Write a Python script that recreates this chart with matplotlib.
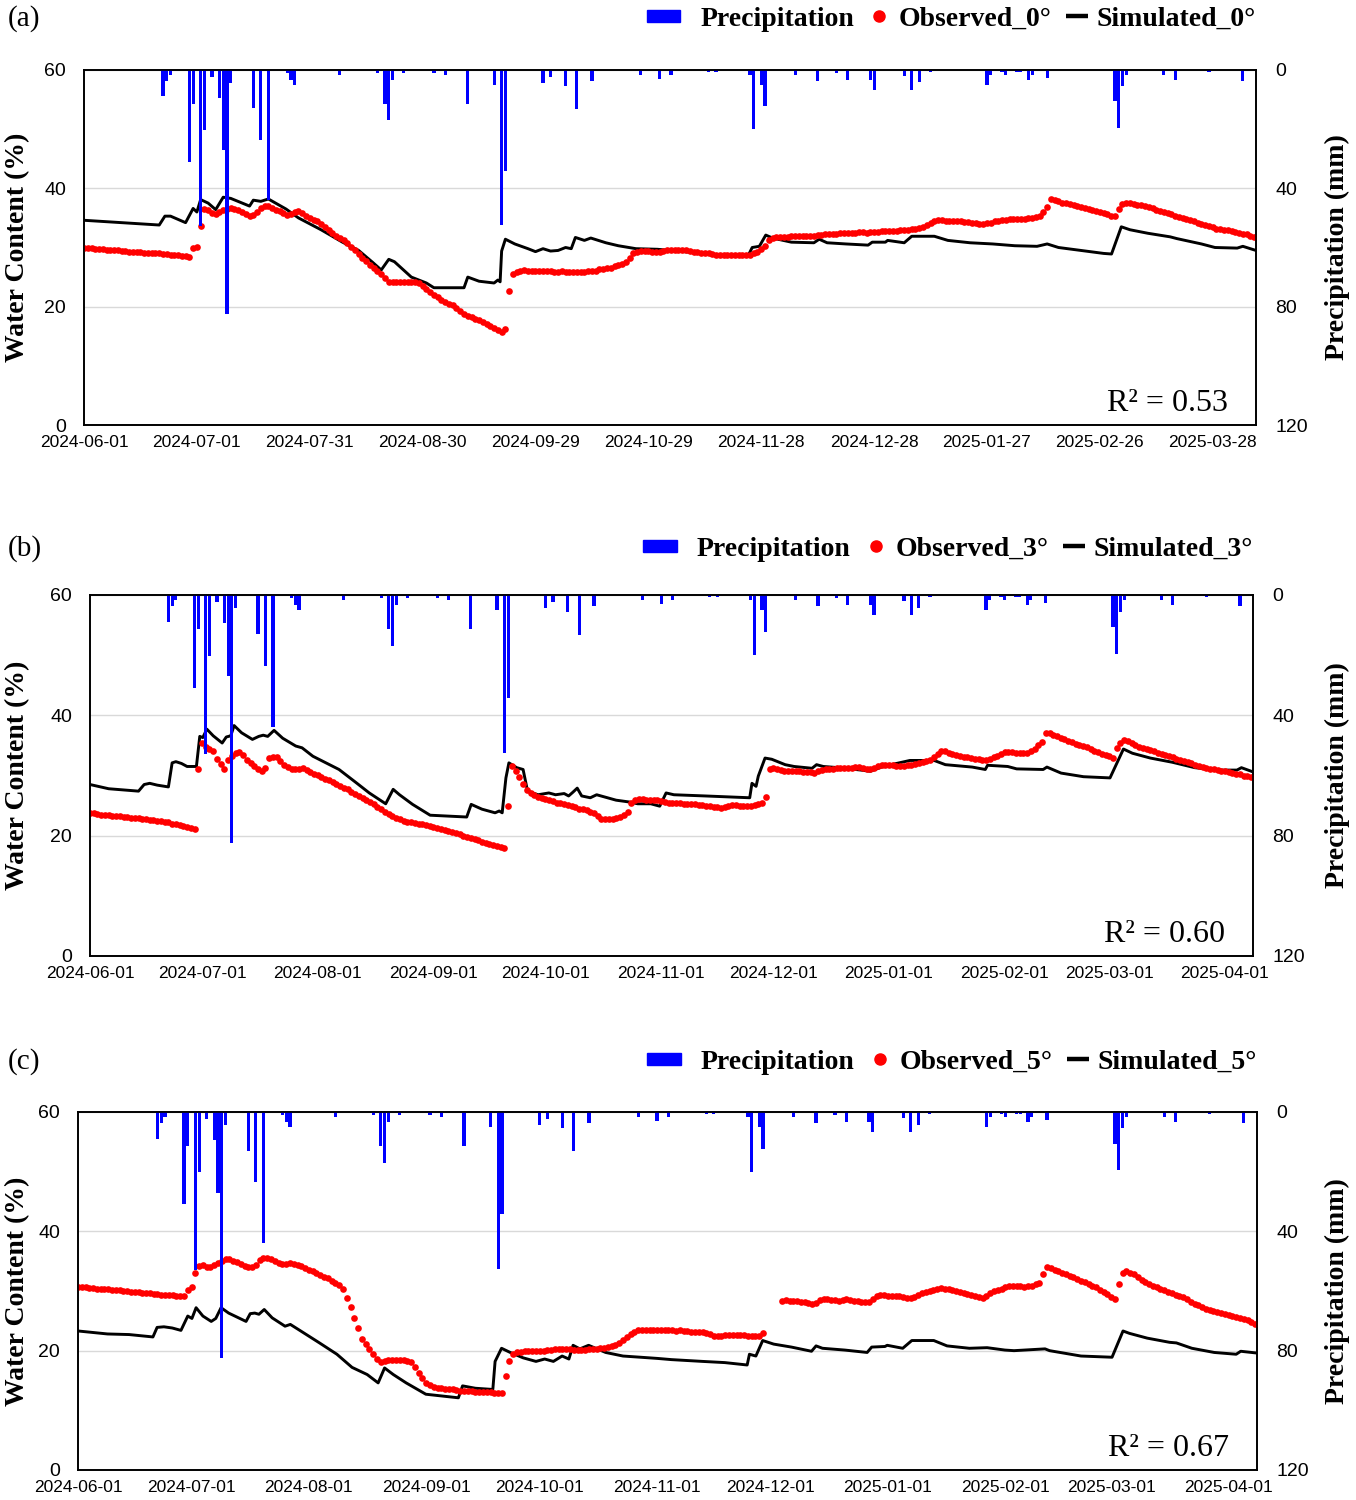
import numpy as np
import matplotlib
matplotlib.use("Agg")
import matplotlib.pyplot as plt
import matplotlib.dates as mdates
from matplotlib.lines import Line2D
from matplotlib.patches import Patch, Rectangle
from matplotlib.legend_handler import HandlerPatch
from datetime import datetime

# ============ data ============
start = datetime(2024, 6, 1)   # day 0

# daily precipitation (mm), same record for all three plots
rain_day = [21, 22, 23, 28, 29, 31, 32, 34, 36, 37, 38, 39, 45, 47, 49, 54, 55, 56, 68,
            78, 80, 81, 82, 85, 93, 96, 102, 109, 111, 112, 122, 124, 128, 131, 135, 148,
            153, 156, 166, 168, 177, 178, 180, 181, 189, 195, 200, 203, 209, 210, 218, 220,
            222, 225, 240, 241, 244, 245, 248, 249, 251, 252, 256, 274, 275, 276, 277, 287,
            290, 299, 308]
rain_mm = [8.9, 3.8, 1.6, 31.0, 11.4, 52.8, 20.2, 2.4, 9.4, 27.0, 82.6, 4.4, 13.0, 23.5, 43.8,
           1.0, 3.3, 5.0, 1.6, 1.0, 11.4, 17.0, 3.3, 1.0, 1.0, 1.6, 11.4, 5.0, 52.5, 34.2, 4.4,
           2.4, 5.5, 13.2, 3.8, 1.6, 2.9, 1.6, 0.8, 0.8, 1.6, 20.0, 5.0, 12.3, 1.6, 3.8, 1.0,
           3.3, 3.3, 6.6, 2.1, 6.6, 4.2, 0.8, 5.0, 1.6, 0.8, 1.6, 0.8, 0.8, 3.3, 1.6, 2.7,
           10.6, 19.6, 5.5, 1.6, 1.6, 3.3, 0.8, 3.8]

# observed water content (%), one value per day from 2024-06-01
obs0 = [30.0, 29.9, 29.9, 29.8, 29.7, 29.7, 29.6, 29.6, 29.5, 29.5,
        29.4, 29.4, 29.3, 29.3, 29.2, 29.2, 29.1, 29.1, 29.0, 29.0,
        29.0, 28.9, 28.9, 28.8, 28.8, 28.7, 28.6, 28.5, 28.4, 29.9,
        30.1, 33.7, 36.5, 36.3, 35.9, 35.6, 36.0, 36.4, 36.5, 36.6,
        36.5, 36.3, 36.0, 35.6, 35.3, 35.5, 36.0, 36.6, 37.0, 37.0,
        36.7, 36.4, 36.1, 35.8, 35.5, 35.6, 36.0, 36.2, 35.8, 35.4,
        35.0, 34.7, 34.4, 34.0, 33.5, 33.0, 32.5, 32.0, 31.6, 31.2,
        30.7, 30.1, 29.5, 28.9, 28.3, 27.7, 27.1, 26.5, 26.0, 25.5,
        24.8, 24.2, 24.2, 24.2, 24.2, 24.2, 24.2, 24.2, 24.2, 24.0,
        23.5, 23.0, 22.5, 22.0, 21.6, 21.2, 20.8, 20.5, 20.2, 19.7,
        19.2, 18.8, 18.4, 18.2, 18.0, 17.7, 17.4, 17.1, 16.8, 16.4,
        16.0, 15.8, 16.3, 22.7, 25.6, 25.9, 26.1, 26.2, 26.1, 26.1,
        26.0, 26.0, 26.1, 26.0, 26.0, 25.9, 25.9, 26.0, 25.9, 25.9,
        25.8, 25.8, 25.9, 25.9, 26.0, 26.0, 26.1, 26.3, 26.4, 26.5,
        26.6, 26.8, 27.0, 27.2, 27.5, 28.3, 29.0, 29.3, 29.4, 29.4,
        29.4, 29.3, 29.3, 29.3, 29.4, 29.5, 29.5, 29.6, 29.6, 29.6,
        29.5, 29.4, 29.3, 29.2, 29.1, 29.0, 29.0, 28.9, 28.8, 28.8,
        28.7, 28.7, 28.7, 28.8, 28.7, 28.7, 28.8, 28.8, 29.0, 29.3,
        29.8, 30.3, 31.2, 31.6, 31.7, 31.8, 31.8, 31.8, 31.9, 31.9,
        31.9, 32.0, 32.0, 32.0, 32.0, 32.1, 32.1, 32.2, 32.2, 32.3,
        32.3, 32.4, 32.4, 32.5, 32.5, 32.5, 32.6, 32.6, 32.5, 32.6,
        32.7, 32.7, 32.8, 32.8, 32.8, 32.8, 32.8, 32.9, 33.0, 33.0,
        33.1, 33.2, 33.3, 33.5, 33.8, 34.2, 34.5, 34.6, 34.6, 34.5,
        34.5, 34.4, 34.4, 34.4, 34.3, 34.3, 34.2, 34.1, 34.0, 33.9,
        34.1, 34.2, 34.4, 34.5, 34.6, 34.7, 34.8, 34.9, 34.9, 34.9,
        34.9, 35.0, 35.0, 35.1, 35.4, 36.0, 36.8, 38.2, 38.0, 37.8,
        37.6, 37.5, 37.3, 37.1, 37.0, 36.8, 36.6, 36.5, 36.3, 36.1,
        36.0, 35.8, 35.6, 35.4, 35.3, 36.5, 37.4, 37.6, 37.5, 37.4,
        37.2, 37.1, 37.0, 36.8, 36.6, 36.4, 36.2, 36.0, 35.8, 35.6,
        35.4, 35.2, 35.0, 34.8, 34.6, 34.4, 34.2, 34.0, 33.8, 33.6,
        33.4, 33.2, 33.1, 33.0, 32.9, 32.8, 32.6, 32.5, 32.3, 32.2,
        32.0, 31.8]

obs3 = [23.8, 23.7, 23.6, 23.5, 23.5, 23.4, 23.3, 23.3, 23.2, 23.1,
        23.1, 23.0, 22.9, 22.9, 22.8, 22.7, 22.6, 22.6, 22.5, 22.4,
        22.3, 22.2, 22.0, 21.9, 21.8, 21.6, 21.5, 21.3, 21.1, 31.0,
        35.4, 34.8, 34.4, 34.0, 32.8, 31.9, 31.1, 32.5, 33.3, 33.8,
        33.9, 33.4, 32.6, 32.0, 31.5, 31.0, 30.7, 31.2, 32.9, 33.1,
        33.0, 32.4, 31.8, 31.4, 31.1, 31.0, 31.1, 31.2, 30.9, 30.6,
        30.3, 30.1, 29.8, 29.5, 29.2, 28.9, 28.6, 28.3, 28.0, 27.7,
        27.3, 27.0, 26.6, 26.3, 26.0, 25.6, 25.2, 24.8, 24.4, 24.0,
        23.6, 23.3, 23.0, 22.7, 22.5, 22.3, 22.2, 22.1, 22.0, 21.9,
        21.8, 21.6, 21.5, 21.3, 21.1, 21.0, 20.8, 20.6, 20.4, 20.2,
        20.0, 19.8, 19.6, 19.4, 19.2, 19.0, 18.8, 18.6, 18.4, 18.3,
        18.1, 18.0, 25.0, 31.5, 30.8, 29.8, 28.6, 27.6, 27.1, 26.8,
        26.5, 26.3, 26.1, 25.9, 25.7, 25.5, 25.4, 25.3, 25.1, 24.9,
        24.7, 24.5, 24.4, 24.2, 24.0, 23.8, 23.2, 22.8, 22.7, 22.7,
        22.8, 22.9, 23.1, 23.5, 24.0, 25.5, 26.0, 26.1, 26.1, 26.0,
        26.0, 25.9, 25.9, 25.7, 25.6, 25.5, 25.5, 25.4, 25.4, 25.3,
        25.3, 25.2, 25.2, 25.1, 25.1, 25.0, 24.9, 24.8, 24.7, 24.6,
        24.7, 24.9, 25.1, 25.1, 25.0, 25.0, 25.0, 25.0, 25.1, 25.3,
        25.4, 26.5, 31.0, 31.2, 31.0, 30.9, 30.8, 30.8, 30.8, 30.7,
        30.7, 30.6, 30.5, 30.5, 30.4, 30.7, 30.9, 31.0, 31.0, 31.1,
        31.2, 31.2, 31.3, 31.3, 31.3, 31.4, 31.4, 31.2, 31.0, 31.0,
        31.3, 31.6, 31.8, 31.8, 31.7, 31.7, 31.6, 31.6, 31.6, 31.7,
        31.8, 31.9, 32.0, 32.2, 32.4, 32.6, 33.0, 33.6, 34.1, 34.0,
        33.8, 33.6, 33.4, 33.2, 33.1, 33.0, 32.9, 32.8, 32.7, 32.6,
        32.6, 32.8, 33.0, 33.2, 33.6, 33.9, 33.9, 33.9, 33.8, 33.8,
        33.8, 33.8, 34.0, 34.4, 35.0, 35.6, 37.1, 37.0, 36.8, 36.5,
        36.3, 36.0, 35.8, 35.5, 35.3, 35.1, 34.9, 34.7, 34.4, 34.1,
        33.9, 33.6, 33.4, 33.2, 32.9, 34.5, 35.4, 35.9, 35.7, 35.4,
        35.1, 34.8, 34.6, 34.4, 34.2, 34.0, 33.8, 33.6, 33.4, 33.2,
        33.0, 32.8, 32.6, 32.4, 32.2, 32.0, 31.8, 31.6, 31.4, 31.2,
        31.1, 31.0, 30.9, 30.8, 30.7, 30.5, 30.4, 30.3, 30.2, 30.0,
        29.9, 29.7]

nan = float("nan")
obs5 = [30.7, 30.6, 30.6, 30.5, 30.5, 30.4, 30.4, 30.3, 30.3, 30.2,
        30.2, 30.1, 30.0, 30.0, 29.9, 29.9, 29.8, 29.7, 29.6, 29.6,
        29.5, 29.5, 29.4, 29.4, 29.3, 29.3, 29.2, 29.2, 29.1, 30.2,
        30.6, 33.0, 34.2, 34.3, 34.1, 34.1, 34.3, 34.7, 35.1, 35.3,
        35.4, 35.1, 34.8, 34.5, 34.2, 34.0, 34.1, 34.3, 35.2, 35.5,
        35.6, 35.3, 35.0, 34.7, 34.5, 34.5, 34.7, 34.6, 34.4, 34.2,
        33.9, 33.6, 33.3, 33.0, 32.7, 32.4, 32.1, 31.7, 31.3, 31.0,
        30.4, 28.9, 27.4, 25.5, 23.8, 22.0, 21.2, 20.2, 19.4, 18.6,
        18.1, 18.2, 18.4, 18.4, 18.5, 18.4, 18.4, 18.3, 18.1, 17.2,
        16.3, 15.4, 14.6, 14.2, 13.9, 13.8, 13.7, 13.6, 13.5, 13.5,
        13.4, 13.3, 13.2, 13.2, 13.2, 13.1, 13.1, 13.1, 13.0, 13.0,
        12.9, 12.9, 12.9, 15.7, 18.2, 19.4, 19.7, 19.8, 19.9, 19.9,
        20.0, 20.0, 20.0, 20.0, 20.1, 20.1, 20.2, 20.3, 20.3, 20.2,
        20.2, 20.1, 20.1, 20.1, 20.1, 20.2, 20.2, 20.3, 20.4, 20.4,
        20.6, 20.8, 21.0, 21.3, 21.8, 22.3, 22.8, 23.2, 23.4, 23.5,
        23.5, 23.5, 23.5, 23.5, 23.4, 23.4, 23.4, 23.4, 23.3, 23.4,
        23.3, 23.3, 23.2, 23.2, 23.2, 23.1, 23.0, 22.8, 22.5, 22.4,
        22.5, 22.6, 22.6, 22.6, 22.6, 22.6, 22.6, 22.5, 22.5, 22.4,
        22.5, 23.0, nan, nan, nan, nan, 28.4, 28.5, 28.4, 28.4,
        28.3, 28.2, 28.1, 28.0, 27.9, 28.0, 28.5, 28.6, 28.6, 28.5,
        28.5, 28.4, 28.5, 28.6, 28.5, 28.4, 28.3, 28.2, 28.1, 28.1,
        28.6, 29.2, 29.4, 29.3, 29.2, 29.2, 29.2, 29.1, 29.0, 28.9,
        28.9, 29.0, 29.3, 29.6, 29.8, 30.0, 30.2, 30.4, 30.5, 30.4,
        30.3, 30.2, 30.0, 29.9, 29.7, 29.5, 29.4, 29.2, 29.0, 28.9,
        29.2, 29.6, 30.0, 30.2, 30.4, 30.7, 30.8, 30.8, 30.8, 30.8,
        30.7, 30.8, 30.9, 31.1, 31.4, 32.8, 34.0, 33.8, 33.5, 33.3,
        33.0, 32.8, 32.5, 32.3, 32.0, 31.7, 31.5, 31.2, 30.9, 30.6,
        30.2, 29.8, 29.5, 29.0, 28.6, 31.2, 33.0, 33.4, 33.1, 32.8,
        32.3, 31.9, 31.5, 31.2, 30.9, 30.6, 30.4, 30.1, 29.8, 29.6,
        29.4, 29.2, 29.0, 28.6, 28.2, 27.9, 27.6, 27.3, 27.0, 26.8,
        26.6, 26.4, 26.3, 26.1, 26.0, 25.8, 25.7, 25.5, 25.3, 25.1,
        24.8, 24.5]

# simulated water content (%), read as (day, value) points along the curve
sim0_day = [0, 10, 20, 21.5, 23, 27, 29, 30, 31, 33, 35, 37, 39, 44, 45, 47, 49, 53.7, 57, 63,
            68.7, 73, 76.7, 79, 81, 82.5, 87, 91, 93, 101, 102, 105, 109, 110, 110.6, 111, 112,
            114.5, 118, 120, 122, 124, 126, 128, 129.5, 130.6, 133, 134.7, 138.7, 142, 146.7,
            152.4, 164.6, 170.5, 176.5, 177.6, 179.5, 181.2, 183, 188, 194, 195.4, 197.5, 202.5,
            208.4, 209.5, 213, 213.6, 218, 220, 226, 229.6, 235.5, 241.5, 247.4, 253.3, 256, 259,
            265, 271, 273.1, 275.7, 278, 282.8, 288.7, 290.5, 297, 300.6, 306.5, 308, 311.5]
sim0_val = [34.6, 34.2, 33.8, 35.3, 35.3, 34.2, 36.6, 36.0, 38.1, 37.5, 36.4, 38.5, 38.3, 37.0,
            38.0, 37.8, 38.2, 36.5, 35.0, 33.0, 30.9, 29.5, 27.5, 26.2, 28.0, 27.6, 25.0, 24.0,
            23.2, 23.2, 25.0, 24.3, 24.0, 24.5, 24.2, 29.4, 31.4, 30.6, 29.8, 29.3, 29.8, 29.4,
            29.5, 30.0, 29.8, 31.7, 31.2, 31.6, 30.8, 30.3, 29.8, 29.7, 29.0, 28.6, 28.6, 30.0,
            30.2, 32.1, 31.6, 30.9, 30.8, 31.4, 30.8, 30.6, 30.4, 30.9, 30.9, 31.2, 30.8, 31.9,
            31.9, 31.2, 30.8, 30.6, 30.3, 30.2, 30.6, 30.0, 29.5, 29.0, 28.9, 33.5, 33.0, 32.4,
            31.8, 31.5, 30.6, 30.0, 29.9, 30.2, 29.5]

sim3_day = [0, 5, 13, 14.5, 16, 18, 21, 22, 23, 24.5, 26, 28.5, 29.4, 30.2, 31.3, 33, 35.4, 36.5,
            37.7, 38.6, 40.6, 43.5, 45.2, 46.4, 47.6, 49.3, 51.6, 55.1, 56.8, 59.7, 66.7, 71.3,
            74.8, 79.2, 81.2, 82.9, 86.4, 91.1, 100.9, 102.1, 105, 108.5, 109.6, 110.4, 111.4,
            112.2, 114.3, 116, 117.2, 120, 122.9, 124.7, 127, 128.2, 129.3, 130.5, 131.7, 134,
            135.7, 138.6, 140.9, 144.4, 146.7, 150.2, 152.6, 154.3, 156.4, 164.8, 176.7, 177.3,
            178.4, 179, 180.8, 182.6, 186.2, 188.6, 193.4, 194.6, 196.4, 200.6, 206.5, 209, 212.4,
            219.6, 226.1, 229.1, 236.3, 239.8, 240.4, 245.8, 248.2, 255.3, 256.3, 260.1, 266.1,
            273.2, 276.8, 279.2, 284, 289.9, 295.9, 301.9, 307.2, 308.4, 311.5]
sim3_val = [28.5, 27.8, 27.4, 28.5, 28.7, 28.4, 28.1, 32.1, 32.3, 32.0, 31.5, 31.5, 36.5, 36.3,
            37.7, 36.6, 35.4, 36.4, 36.6, 38.3, 37.1, 36.0, 36.5, 36.7, 36.5, 37.5, 36.2, 34.9,
            34.6, 33.2, 31.0, 28.8, 27.1, 25.3, 27.7, 26.8, 25.2, 23.4, 23.1, 25.2, 24.4, 23.8,
            24.1, 23.8, 29.6, 32.1, 31.3, 31.0, 27.4, 26.8, 27.1, 26.8, 27.0, 26.6, 27.2, 27.9,
            26.6, 26.3, 26.8, 26.3, 25.9, 25.6, 25.3, 25.3, 24.9, 27.1, 26.8, 26.6, 26.3, 28.7,
            28.2, 29.9, 32.9, 32.7, 31.8, 31.5, 31.2, 31.8, 31.5, 31.3, 30.9, 30.7, 31.5, 32.5,
            32.5, 31.8, 31.4, 31.0, 31.7, 31.5, 31.1, 31.0, 31.4, 30.4, 29.8, 29.6, 34.4, 33.7,
            32.9, 32.2, 31.3, 30.9, 30.9, 31.3, 30.6]

sim5_day = [0, 7.8, 13.5, 19.8, 20.9, 22.7, 24.9, 27.2, 29, 30.1, 31.2, 33, 35.2, 36.4, 37.8,
            39.8, 44.4, 45.5, 46.7, 47.8, 49.2, 51.3, 54.7, 56.1, 58.1, 63.8, 68.4, 72.4, 76.4,
            79.3, 81, 83.3, 86.7, 91.9, 100.5, 101.6, 105, 109.6, 110.2, 111.9, 114.2, 117.6,
            121, 123.3, 125.6, 127.9, 129.7, 130.8, 132.6, 134.9, 139.4, 144, 148.6, 153.1,
            156.8, 165, 170.9, 176.8, 177.4, 179.1, 180.9, 183.8, 188.5, 193.8, 195, 196.7,
            202.6, 208.5, 209.7, 213.2, 213.8, 217.9, 220.3, 226.1, 229.6, 235.5, 240.2, 244.9,
            247.3, 255.5, 256.7, 265, 273.2, 276.1, 277.8, 282.5, 288.4, 290.2, 294.3, 300.2,
            306, 307.2, 311.5]
sim5_val = [23.3, 22.8, 22.7, 22.3, 23.9, 24.0, 23.8, 23.4, 25.8, 25.4, 27.2, 25.8, 24.9, 25.4,
            27.2, 26.3, 24.9, 26.2, 26.3, 26.1, 26.9, 25.5, 24.1, 24.4, 23.6, 21.3, 19.4, 17.2,
            16.0, 14.6, 17.1, 16.0, 14.6, 12.7, 12.1, 14.1, 13.7, 13.5, 18.2, 20.4, 19.7, 18.8,
            18.2, 18.6, 18.2, 19.1, 18.6, 20.9, 20.3, 20.9, 19.7, 19.1, 18.9, 18.7, 18.5, 18.2,
            18.0, 17.6, 19.4, 19.1, 21.7, 21.1, 20.6, 19.9, 20.8, 20.4, 20.1, 19.7, 20.6, 20.7,
            20.9, 20.4, 21.7, 21.7, 20.8, 20.4, 20.5, 20.1, 20.0, 20.3, 20.0, 19.1, 18.9, 23.3,
            22.9, 22.1, 21.4, 21.3, 20.4, 19.7, 19.4, 19.9, 19.6]

ticks_a = ["2024-06-01", "2024-07-01", "2024-07-31", "2024-08-30", "2024-09-29", "2024-10-29",
           "2024-11-28", "2024-12-28", "2025-01-27", "2025-02-26", "2025-03-28"]
ticks_bc = ["2024-06-01", "2024-07-01", "2024-08-01", "2024-09-01", "2024-10-01", "2024-11-01",
            "2024-12-01", "2025-01-01", "2025-02-01", "2025-03-01", "2025-04-01"]

tags = ["(a)", "(b)", "(c)"]
angles = ["0", "3", "5"]
r2 = ["0.53", "0.60", "0.67"]
# =====================================================

W, H = 1356, 1500
SERIF = "Liberation Serif"
plt.rcParams["font.family"] = ["Liberation Sans", "DejaVu Sans"]

fig = plt.figure(figsize=(W / 100, H / 100), dpi=100)
base = mdates.date2num(start)

# pixel boxes of the three plots: left, right, top, bottom
boxes = [(84, 1256, 70, 425), (90, 1253, 595, 956), (78, 1257, 1112, 1470)]
legend_y = [19, 549, 1062]
obs_all = [obs0, obs3, obs5]
sim_all = [(sim0_day, sim0_val), (sim3_day, sim3_val), (sim5_day, sim5_val)]
tick_all = [ticks_a, ticks_bc, ticks_bc]


# legend key for precipitation: a wide flat bar sitting left of its text
def rain_key(legend, orig_handle, xdescent, ydescent, width, height, fontsize):
    h = 8.6
    return Rectangle((-xdescent - 16.5, -ydescent + height / 2 - h / 2), 24, h)


for i in range(3):
    l, r, t, b = boxes[i]
    ax = fig.add_axes([l / W, 1 - b / H, (r - l) / W, (b - t) / H])
    ax2 = ax.twinx()

    obs = np.array(obs_all[i], dtype=float)
    sd, sv = sim_all[i]
    ax.plot(base + np.array(sd), sv, "-", color="black", lw=2.1, zorder=3)
    ax.plot(base + np.arange(len(obs)), obs, "o", color="#ff0000", ms=4.8, mec="none", zorder=4)

    ax2.bar(base + np.array(rain_day), rain_mm, width=0.85, color="#0000ff")
    ax2.set_ylim(120, 0)
    ax2.set_yticks([0, 40, 80, 120])

    ax.set_ylim(0, 60)
    ax.set_yticks([0, 20, 40, 60])
    ax.set_xlim(base, base + 311.5)
    ax.set_xticks(mdates.datestr2num(tick_all[i]))
    ax.set_xticklabels(tick_all[i])
    ax.grid(axis="y", color="#d9d9d9", lw=1)
    ax.set_axisbelow(True)

    ax.tick_params(length=0)
    ax.tick_params(axis="y", labelsize=14, pad=13)
    ax.tick_params(axis="x", labelsize=12.5, pad=7)
    ax2.tick_params(length=0, labelsize=14, pad=14)
    for a in (ax, ax2):
        for s in a.spines.values():
            s.set_color("black")
            s.set_linewidth(1.2)

    # legend above the plot
    handles = [Patch(color="#0000ff"),
               Line2D([], [], ls="none", marker="o", color="#ff0000", ms=8),
               Line2D([], [], color="black", lw=3.2, solid_capstyle="butt")]
    labels = ["Precipitation", "Observed_%s°" % angles[i], "Simulated_%s°" % angles[i]]
    ax.legend(handles, labels, ncol=3, loc="center right",
              bbox_to_anchor=(r / W, 1 - legend_y[i] / H), bbox_transform=fig.transFigure,
              frameon=False, prop={"family": SERIF, "weight": "bold", "size": 20},
              handlelength=0.8, handletextpad=0.3, columnspacing=0.52,
              borderpad=0, borderaxespad=0,
              handler_map={Patch: HandlerPatch(patch_func=rain_key)})

    ax.annotate("R² = " + r2[i], xy=(1, 0), xycoords="axes fraction", xytext=(-20, 10),
                textcoords="offset points", ha="right", va="baseline",
                family=SERIF, size=23)

    ymid = 1 - (t + b) / 2 / H
    fig.text(18 / W, ymid, "Water Content (%)", rotation=90, ha="center", va="center",
             family=SERIF, weight="bold", size=20)
    fig.text(1337 / W, ymid, "Precipitation (mm)", rotation=90, ha="center", va="center",
             family=SERIF, weight="bold", size=20)
    fig.text(8 / W, 1 - legend_y[i] / H, tags[i], ha="left", va="center",
             family=SERIF, size=21)

fig.savefig("out.png", dpi=100)
